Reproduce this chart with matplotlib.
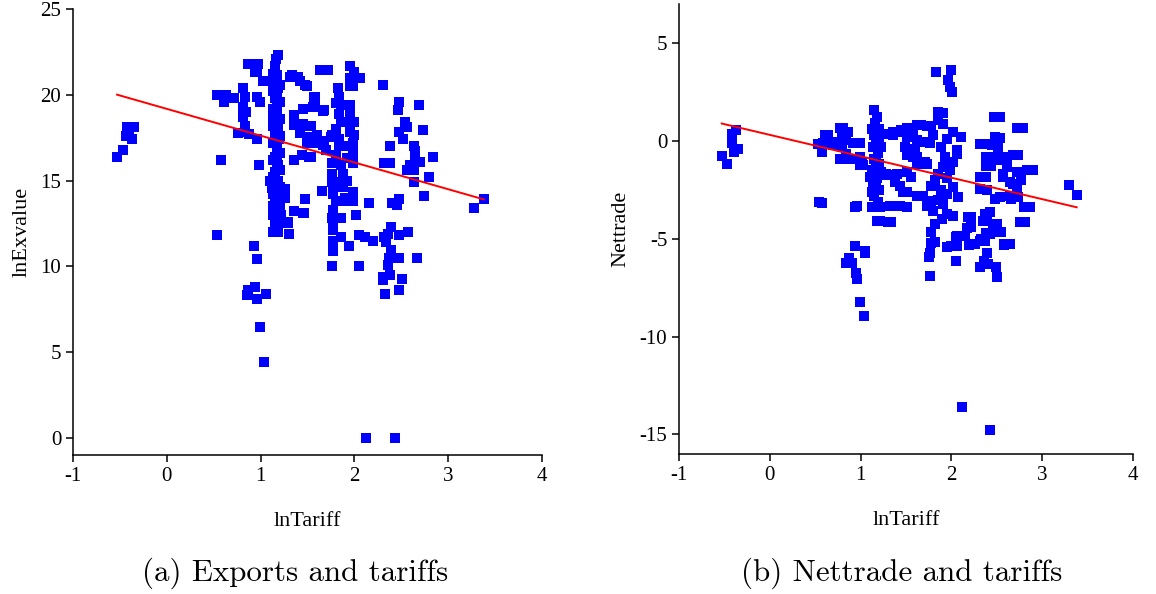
import numpy as np
import matplotlib
matplotlib.use("Agg")
import matplotlib.pyplot as plt

plt.rcParams['font.family'] = ['Liberation Serif', 'DejaVu Serif']
plt.rcParams['axes.unicode_minus'] = False

# ─────────────────────────────
# 1. DATA
# ─────────────────────────────
# panel (a): lnTariff vs lnExvalue
exp_pts = [
    (-0.53, 16.4), (-0.47, 16.8), (-0.43, 17.6), (-0.42, 18.1), (-0.37, 17.4), (-0.35, 18.1), (-0.40, 17.9),
    (0.54, 20.0), (0.58, 16.2), (0.54, 11.8), (0.63, 20.0), (0.61, 19.6), (0.71, 19.8), (0.81, 20.4),
    (0.83, 19.9), (0.81, 19.3), (0.84, 19.0), (0.81, 18.7), (0.83, 18.2), (0.76, 17.8), (0.88, 17.7),
    (0.96, 17.4), (0.96, 19.9), (0.99, 19.6), (0.98, 15.9), (0.87, 21.8), (0.97, 21.8), (0.96, 21.4),
    (1.03, 20.8), (0.94, 21.3), (0.72, 19.8), (0.83, 17.85), (0.81, 18.8), (0.93, 11.2), (0.96, 10.4),
    (0.87, 8.6), (0.94, 8.8), (0.86, 8.3), (0.96, 8.1), (1.06, 8.4), (0.99, 6.45), (1.04, 4.45),
    (1.19, 22.3), (1.16, 22.1), (1.15, 21.7), (1.17, 21.15), (1.13, 20.8), (1.19, 20.4), (1.15, 19.8),
    (1.17, 19.3), (1.13, 18.7), (1.19, 18.2), (1.15, 17.75), (1.20, 17.4), (1.17, 16.9), (1.15, 16.4),
    (1.19, 15.9), (1.15, 15.5), (1.10, 15.0), (1.19, 14.95), (1.12, 14.55), (1.20, 14.35), (1.26, 14.0),
    (1.15, 13.9), (1.19, 13.4), (1.13, 13.0), (1.22, 13.0), (1.15, 12.4), (1.17, 12.0), (1.13, 12.0),
    (1.19, 12.0), (1.17, 21.0), (1.17, 20.0), (1.17, 19.0), (1.17, 18.0), (1.17, 17.0), (1.17, 16.0),
    (1.17, 15.0), (1.17, 14.0), (1.17, 13.0), (1.21, 20.6), (1.21, 19.6), (1.21, 18.6), (1.21, 17.6),
    (1.21, 16.6), (1.21, 15.6), (1.21, 14.6), (1.21, 13.6), (1.21, 12.6), (1.13, 21.2), (1.13, 20.2),
    (1.13, 19.2), (1.13, 18.2), (1.13, 17.2), (1.13, 16.2), (1.13, 15.2), (1.13, 14.2), (1.13, 13.5),
    (1.30, 11.9), (1.29, 12.55), (1.26, 14.5),
    (1.31, 21.05), (1.33, 21.15), (1.40, 21.05), (1.42, 20.8), (1.47, 20.6), (1.49, 20.5), (1.57, 19.9),
    (1.58, 19.9), (1.56, 19.3), (1.58, 19.4), (1.45, 19.2), (1.36, 18.8), (1.36, 18.25), (1.45, 18.3),
    (1.54, 18.2), (1.49, 18.2), (1.42, 17.75), (1.60, 17.65), (1.49, 17.55), (1.56, 17.2), (1.50, 17.2),
    (1.44, 16.5), (1.36, 16.2), (1.54, 16.4), (1.52, 16.4), (1.68, 19.1), (1.67, 19.05), (1.75, 17.55),
    (1.67, 17.1), (1.70, 16.8), (1.68, 17.3), (1.63, 21.45), (1.72, 21.45), (1.65, 14.4), (1.47, 13.9),
    (1.45, 13.1), (1.36, 13.2), (1.46, 13.1), (1.29, 12.6), (1.44, 18.25), (1.51, 17.3),
    (1.95, 21.7), (2.00, 21.35), (2.06, 20.96), (1.95, 20.96), (1.95, 20.5), (1.83, 20.4), (1.99, 20.5),
    (1.84, 19.9), (1.86, 19.4), (1.95, 19.4), (1.84, 18.9), (1.86, 18.4), (2.00, 18.4), (1.92, 18.4),
    (1.95, 17.85), (2.00, 17.65), (1.76, 17.65), (1.84, 17.45), (1.99, 17.2), (1.84, 17.1), (1.99, 16.6),
    (1.76, 16.0), (1.86, 15.9), (1.99, 16.0), (1.76, 15.4), (1.88, 15.4), (1.84, 14.9), (1.76, 14.9),
    (1.77, 14.55), (1.88, 14.65), (1.99, 14.35), (1.77, 14.2), (1.88, 13.8), (1.99, 13.8), (2.02, 13.0),
    (1.77, 13.3), (1.76, 12.8), (1.84, 12.8), (1.77, 12.3), (1.86, 12.8), (1.77, 12.1), (1.77, 11.45),
    (1.86, 11.7), (1.77, 10.9), (1.76, 10.0), (1.94, 11.2), (2.05, 11.8), (2.11, 11.7), (2.20, 11.5),
    (2.05, 10.0), (1.80, 19.5), (1.80, 18.0), (1.80, 16.5), (1.92, 16.3), (1.92, 15.0), (1.95, 18.9),
    (1.90, 17.0), (1.80, 13.8), (1.90, 14.0),
    (2.31, 20.6), (2.47, 19.6), (2.46, 19.1), (2.69, 19.4), (2.54, 18.4), (2.56, 18.1), (2.48, 17.85),
    (2.52, 17.45), (2.73, 17.95), (2.38, 17.0), (2.63, 17.0), (2.65, 16.7), (2.65, 16.3), (2.70, 16.1),
    (2.84, 16.4), (2.32, 16.0), (2.38, 16.0), (2.59, 15.9), (2.56, 15.6), (2.63, 15.6), (2.80, 15.2),
    (2.64, 14.9), (2.16, 13.7), (2.40, 13.7), (2.45, 13.6), (2.48, 13.9), (2.74, 14.1), (3.28, 13.4),
    (3.38, 13.9), (2.32, 11.7), (2.36, 11.9), (2.34, 11.4), (2.39, 10.95), (2.37, 10.5), (2.36, 10.1),
    (2.38, 9.5), (2.31, 9.4), (2.31, 9.2), (2.33, 8.4), (2.48, 11.8), (2.57, 12.0), (2.48, 10.5),
    (2.67, 10.5), (2.51, 9.25), (2.48, 8.6), (2.39, 12.3), (2.12, 0.0), (2.43, 0.0),
]

# panel (b): lnTariff vs Nettrade
net_pts = [
    (-0.53, -0.79), (-0.47, -1.2), (-0.42, 0.38), (-0.37, 0.55), (-0.42, -0.13), (-0.40, -0.56), (-0.35, -0.39),
    (0.54, -3.13), (0.53, -0.14), (0.58, -0.56), (0.61, 0.29), (0.68, -0.05), (0.77, 0.64), (0.79, 0.21),
    (0.84, 0.46), (0.77, -0.9), (0.84, -0.65), (0.92, -0.13), (0.99, -0.13), (0.99, -0.82), (0.99, -1.25),
    (0.94, -3.39), (1.05, -5.6), (0.64, 0.29), (0.81, 0.64), (0.86, 0.46), (0.84, 0.04), (0.59, -0.13),
    (0.70, -0.22), (0.79, -0.31), (0.88, -0.9), (1.01, -1.08), (1.03, -1.25), (0.94, -5.36), (1.05, -5.73),
    (0.87, -5.96), (0.84, -6.25), (0.90, -6.25), (0.95, -6.73), (0.96, -7.04), (0.99, -8.22), (1.04, -8.97),
    (1.15, 1.58), (1.18, 1.2), (1.16, 0.9), (1.20, 0.6), (1.15, 0.3), (1.20, 0.0), (1.14, -0.3),
    (1.19, -0.6), (1.15, -0.9), (1.20, -1.2), (1.13, -1.5), (1.10, -1.85), (1.18, -1.9), (1.14, -2.28),
    (1.20, -2.5), (1.15, -2.8), (1.19, -3.1), (1.12, -3.39), (1.21, -3.39), (1.17, -1.0), (1.17, 0.1),
    (1.17, -2.0), (1.22, -0.3), (1.12, 0.6), (1.22, -1.6), (1.12, -2.6), (1.18, -4.07), (1.30, -4.16),
    (1.21, -4.07), (1.34, -4.12),
    (1.28, 0.38), (1.36, 0.46), (1.45, 0.55), (1.51, 0.21), (1.58, 0.38), (1.62, 0.81), (1.73, 0.75),
    (1.69, -0.05), (1.76, -0.13), (1.49, -0.31), (1.51, -0.73), (1.56, -0.56), (1.36, 0.29), (1.40, 0.46),
    (1.51, 0.64), (1.52, -0.73), (1.58, -0.82), (1.60, -0.39), (1.65, -1.08), (1.71, -1.08), (1.27, -1.76),
    (1.38, -2.1), (1.43, -2.28), (1.51, -2.62), (1.40, -1.68), (1.51, -1.59), (1.28, -1.68), (1.36, -1.76),
    (1.56, -1.85), (1.62, -1.16), (1.47, -2.62), (1.62, -2.79), (1.32, -3.3), (1.43, -3.3), (1.51, -3.39),
    (0.57, -3.17), (0.96, -3.35),
    (1.83, 3.54), (2.00, 3.63), (1.96, 3.12), (1.98, 2.77), (2.01, 2.52), (1.85, 1.49), (1.85, 1.06),
    (1.91, 1.41), (1.91, 0.89), (1.67, 0.81), (1.78, 0.76), (2.11, 0.21), (2.02, 0.46), (1.95, 0.12),
    (1.76, -0.05), (1.62, 0.04), (1.58, -0.39), (1.62, -0.82), (1.73, -1.16), (2.06, -0.48), (2.06, -0.65),
    (1.93, -0.82), (2.02, -1.08), (1.91, -1.34), (1.98, -1.5), (1.82, -2.0), (1.78, -2.3), (1.88, -2.5),
    (1.95, -2.7), (1.85, -3.0), (2.02, -2.36), (1.91, -3.22), (2.07, -2.88), (1.76, -3.05), (1.69, -2.79),
    (1.95, -3.73), (2.02, -3.82), (1.82, -4.24), (1.82, -5.19), (2.00, -5.36), (1.77, -4.67), (1.77, -5.24),
    (1.76, -5.75), (1.75, -5.92), (1.76, -6.9), (1.95, -5.41), (2.05, -4.89), (2.13, -4.84), (2.19, -5.32),
    (2.05, -6.13), (1.80, -3.6), (1.90, -4.0), (1.78, -3.13), (1.73, -3.3), (1.67, -2.79), (1.95, -1.9),
    (1.85, -1.7), (1.88, -0.3), (1.80, 0.3),
    (2.53, 1.2), (2.47, 1.2), (2.79, 0.64), (2.72, 0.64), (2.37, -0.17), (2.31, -0.17), (2.51, -0.13),
    (2.53, 0.17), (2.48, 0.21), (2.45, -0.22), (2.44, -0.82), (2.61, -0.82), (2.53, -0.82), (2.73, -0.73),
    (2.44, -1.3), (2.61, -1.34), (2.90, -1.5), (2.38, -1.85), (2.57, -1.85), (2.72, -1.59), (2.77, -2.02),
    (2.68, -2.19), (2.72, -2.44), (2.39, -2.53), (2.53, -2.88), (2.64, -2.79), (2.73, -2.88), (2.87, -3.39),
    (2.81, -4.16), (2.42, -3.65), (2.39, -4.07), (2.50, -4.24), (2.55, -4.67), (2.42, -4.76), (2.37, -5.1),
    (2.64, -5.27), (2.22, -3.87), (2.22, -4.42), (2.15, -4.84), (2.26, -5.27), (2.38, -0.82), (2.38, -1.3),
    (2.31, -1.85), (2.31, -2.44), (2.68, -0.73), (2.83, -1.5), (3.29, -2.24), (3.38, -2.75), (2.80, -3.39),
    (2.75, -4.12), (2.48, -2.96), (2.66, -2.96), (2.57, -1.68), (2.64, -2.1), (2.51, -0.48), (2.55, -0.99),
    (2.37, -3.73), (2.35, -4.07), (2.46, -4.24), (2.49, -4.67), (2.33, -5.01), (2.58, -5.27), (2.18, -3.87),
    (2.17, -4.47), (2.06, -5.36), (2.06, -4.84), (2.31, -5.1), (2.35, -5.01), (2.38, -4.72), (2.39, -5.75),
    (2.36, -6.13), (2.40, -6.27), (2.31, -6.44), (2.49, -6.44), (2.49, -4.67), (2.58, -5.32), (2.50, -6.93),
    (2.12, -13.6), (2.43, -14.77),
]

# fitted lines (intercept, slope)
exp_fit = (19.18, -1.562)
net_fit = (0.31, -1.095)

x_ticks = [-1, 0, 1, 2, 3, 4]
exp_yticks = [0, 5, 10, 15, 20, 25]
net_yticks = [-15, -10, -5, 0, 5]

captions = ["(a) Exports and tariffs", "(b) Nettrade and tariffs"]
ylabels = ["lnExvalue", "Nettrade"]


# ─────────────────────────────
# 2. DRAW ONE PANEL
# ─────────────────────────────
def draw_panel(ax, pts, fit, ylabel, yticks, ylim):

    pts = np.array(pts)
    x, y = pts[:, 0], pts[:, 1]

    ax.plot(x, y, 's', color='#0000FF', ms=7, mew=0, zorder=2)

    xs = np.array([x.min(), x.max()])
    ax.plot(xs, fit[0] + fit[1] * xs, color='#FF0000', lw=1.4, zorder=3)

    ax.set_xlim(-1, 4)
    ax.set_ylim(*ylim)
    ax.set_xticks(x_ticks)
    ax.set_yticks(yticks)

    for s in ['top', 'right']:
        ax.spines[s].set_visible(False)
    for s in ['left', 'bottom']:
        ax.spines[s].set_linewidth(1.1)

    ax.tick_params(direction='out', length=5, width=1.1, labelsize=15)
    ax.set_xlabel("lnTariff", fontsize=16, labelpad=19)
    ax.set_ylabel(ylabel, fontsize=16)


fig = plt.figure(figsize=(11.56, 5.94), dpi=100)

ax1 = fig.add_axes([0.0631, 0.234, 0.4058, 0.7508])
ax2 = fig.add_axes([0.5874, 0.2357, 0.3927, 0.7576])

draw_panel(ax1, exp_pts, exp_fit, ylabels[0], exp_yticks, (-1, 25))
draw_panel(ax2, net_pts, net_fit, ylabels[1], net_yticks, (-16, 7))

ax1.yaxis.set_label_coords(-0.088, 0.5)
ax2.yaxis.set_label_coords(-0.107, 0.5)

fig.text(295 / 1156, 1 - 573 / 594, captions[0], family='cmr10',
         fontsize=22.3, ha='center', va='center')
fig.text(902 / 1156, 1 - 573 / 594, captions[1], family='cmr10',
         fontsize=22.3, ha='center', va='center')

fig.savefig("out.png", dpi=100)
